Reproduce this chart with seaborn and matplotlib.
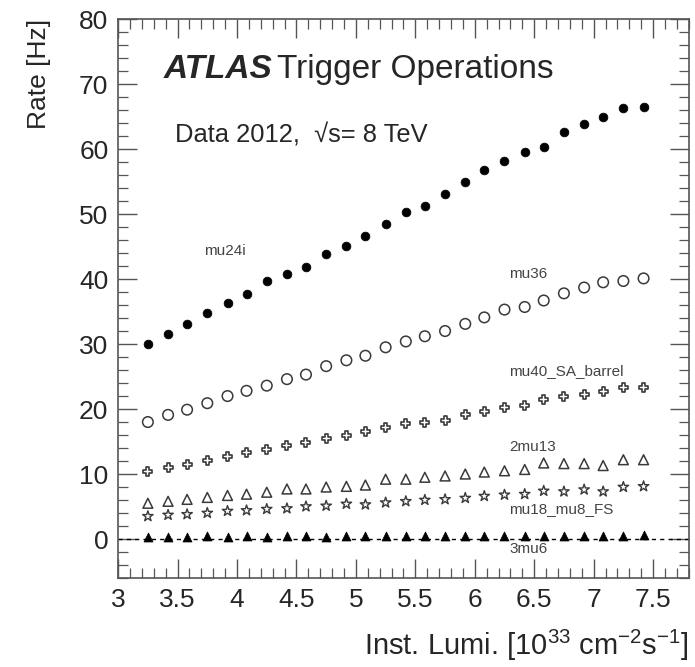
import numpy as np
import pandas as pd
import matplotlib
matplotlib.use("Agg")
import matplotlib.pyplot as plt
from matplotlib.ticker import MultipleLocator
import seaborn as sns

# Instantaneous luminosity bin centres [10^33 cm^-2 s^-1]
lumi = [3.25, 3.42, 3.58, 3.75, 3.92, 4.08, 4.25, 4.42, 4.58, 4.75,
        4.92, 5.08, 5.25, 5.42, 5.58, 5.75, 5.92, 6.08, 6.25, 6.42,
        6.58, 6.75, 6.92, 7.08, 7.25, 7.42]

# Trigger rates [Hz]
rate_mu24i = [30.0, 31.5, 33.1, 34.8, 36.3, 37.7, 39.7, 40.8, 41.9, 43.9,
              45.1, 46.7, 48.4, 50.3, 51.3, 53.1, 54.9, 56.8, 58.1, 59.5,
              60.3, 62.6, 63.8, 64.9, 66.3, 66.4]
rate_mu36 = [18.0, 19.1, 19.9, 20.9, 22.0, 22.8, 23.6, 24.6, 25.3, 26.6,
             27.5, 28.2, 29.5, 30.4, 31.2, 32.0, 33.1, 34.1, 35.3, 35.7,
             36.7, 37.8, 38.7, 39.5, 39.7, 40.1]
rate_mu40_SA_barrel = [10.4, 11.0, 11.5, 12.1, 12.7, 13.3, 13.7, 14.4, 14.8, 15.4,
                       16.0, 16.6, 17.1, 17.8, 17.9, 18.3, 19.2, 19.6, 20.3, 20.6,
                       21.4, 21.9, 22.3, 22.7, 23.3, 23.3]
rate_2mu13 = [5.5, 5.8, 6.1, 6.4, 6.7, 6.9, 7.2, 7.7, 7.7, 8.0,
              8.1, 8.3, 9.2, 9.2, 9.5, 9.7, 10.0, 10.3, 10.5, 10.7,
              11.7, 11.6, 11.6, 11.3, 12.2, 12.2]
rate_mu18_mu8_FS = [3.5, 3.7, 3.8, 4.0, 4.3, 4.4, 4.6, 4.7, 5.0, 5.1,
                    5.4, 5.3, 5.6, 5.8, 6.0, 6.1, 6.3, 6.6, 6.8, 6.9,
                    7.4, 7.3, 7.6, 7.3, 8.0, 8.1]
rate_3mu6 = [0.30, 0.30, 0.35, 0.40, 0.35, 0.40, 0.35, 0.40, 0.40, 0.35,
             0.40, 0.40, 0.45, 0.45, 0.40, 0.45, 0.45, 0.50, 0.45, 0.50,
             0.50, 0.45, 0.50, 0.50, 0.50, 0.55]

trigger_names = ["mu24i", "mu36", "mu40_SA_barrel", "2mu13", "mu18_mu8_FS", "3mu6"]
label_pos = {"mu24i": (3.72, 44.3), "mu36": (6.29, 40.8),
             "mu40_SA_barrel": (6.29, 25.9), "2mu13": (6.29, 14.1),
             "mu18_mu8_FS": (6.29, 4.6), "3mu6": (6.29, -1.5)}

rates = {"mu24i": rate_mu24i, "mu36": rate_mu36,
         "mu40_SA_barrel": rate_mu40_SA_barrel, "2mu13": rate_2mu13,
         "mu18_mu8_FS": rate_mu18_mu8_FS, "3mu6": rate_3mu6}

styles = {
    "mu24i":          dict(marker="o", s=40, facecolor="black", edgecolor="black", linewidth=0.5),
    "mu36":           dict(marker="o", s=58, facecolor="none", edgecolor="#3a3a3a", linewidth=1.1),
    "mu40_SA_barrel": dict(marker="P", s=42, facecolor="none", edgecolor="#3a3a3a", linewidth=1.2),
    "2mu13":          dict(marker="^", s=50, facecolor="none", edgecolor="#3a3a3a", linewidth=1.1),
    "mu18_mu8_FS":    dict(marker="*", s=62, facecolor="none", edgecolor="#3a3a3a", linewidth=1.0),
    "3mu6":           dict(marker="^", s=42, facecolor="black", edgecolor="black", linewidth=0.5),
}

sns.set_style("ticks")
plt.rcParams["font.family"] = ["Liberation Sans", "DejaVu Sans"]
plt.rcParams["mathtext.fontset"] = "custom"
plt.rcParams["mathtext.rm"] = "Liberation Sans"
plt.rcParams["mathtext.it"] = "Liberation Sans:italic"

fig = plt.figure(figsize=(6.95, 6.67), dpi=100)
ax = fig.add_axes([0.170, 0.1334, 0.821, 0.838])

frames = []
for name in trigger_names:
    frames.append(pd.DataFrame({"lumi": lumi, "rate": rates[name], "trigger": name}))
df = pd.concat(frames, ignore_index=True)

for name in trigger_names:
    sub = df[df["trigger"] == name]
    st = styles[name]
    sns.scatterplot(data=sub, x="lumi", y="rate", ax=ax, marker=st["marker"], s=st["s"],
                    facecolor=st["facecolor"], edgecolor=st["edgecolor"],
                    linewidth=st["linewidth"], legend=False, zorder=3)
    lx, ly = label_pos[name]
    ax.text(lx, ly, name, fontsize=11, color="#444444", ha="left", va="center")

ax.axhline(0, color="black", lw=1.0, ls=(0, (3, 3)), zorder=2)

ax.set_xlim(3, 7.8)
ax.set_ylim(-6, 80)
ax.xaxis.set_minor_locator(MultipleLocator(0.1))
ax.yaxis.set_minor_locator(MultipleLocator(2))
ax.set_xticks([3, 3.5, 4, 4.5, 5, 5.5, 6, 6.5, 7, 7.5])
ax.set_xticklabels(["3", "3.5", "4", "4.5", "5", "5.5", "6", "6.5", "7", "7.5"])
ax.set_yticks([0, 10, 20, 30, 40, 50, 60, 70, 80])
ax.set_yticklabels(["0", "10", "20", "30", "40", "50", "60", "70", "80"])

ax.tick_params(which="both", direction="in", top=True, right=True, color="#555555")
ax.tick_params(which="major", length=14, width=1.0, labelsize=19, pad=7)
ax.tick_params(which="minor", length=7, width=0.9)
for sp in ax.spines.values():
    sp.set_color("#555555")
    sp.set_linewidth(1.2)

ax.set_xlabel(r"Inst. Lumi. [10$^{33}$ cm$^{-2}$s$^{-1}$]", fontsize=21)
ax.xaxis.set_label_coords(1.0, -0.1375)
ax.xaxis.label.set_ha("right")
ax.xaxis.label.set_va("baseline")
ax.set_ylabel("Rate [Hz]", fontsize=19, loc="top", labelpad=20)

# Title block: bold-italic experiment name followed by regular text
t1 = ax.text(0.079, 0.895, "ATLAS", transform=ax.transAxes, fontsize=24,
             fontweight="bold", fontstyle="italic", ha="left", va="baseline")
fig.canvas.draw()
bb = t1.get_window_extent()
inv = ax.transAxes.inverted()
x_end = inv.transform((bb.x1 + 5, bb.y0))[0]
ax.text(x_end, 0.895, "Trigger Operations", transform=ax.transAxes, fontsize=24,
        ha="left", va="baseline")
ax.text(0.10, 0.780, "Data 2012,  √s= 8 TeV", transform=ax.transAxes, fontsize=18.4,
        ha="left", va="baseline")

fig.savefig("out.png", dpi=100)
